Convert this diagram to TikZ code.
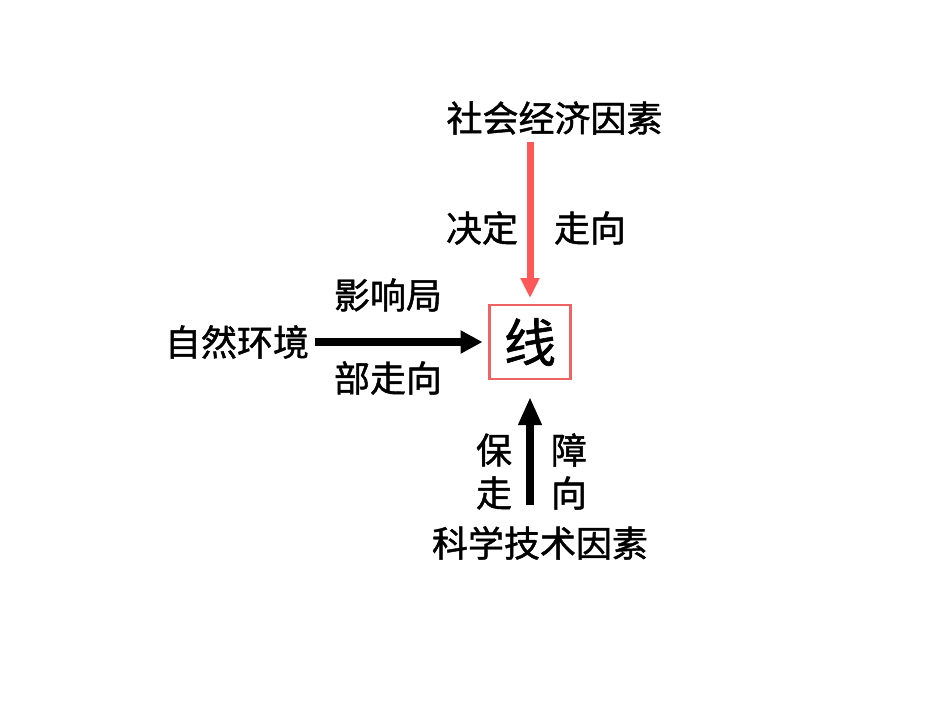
\documentclass[tikz,border=0pt]{standalone}
\usepackage{fontspec}
\newfontfamily\cjk{Noto Sans CJK SC}[FakeBold=1.2]
\usetikzlibrary{arrows.meta}
\definecolor{arrred}{RGB}{255,88,88}
\definecolor{boxred}{RGB}{238,100,100}
\begin{document}
\begin{tikzpicture}[x=1pt,y=-1pt,
  lbl/.style={inner sep=0pt,font=\cjk\fontsize{36}{36}\selectfont},
  redarr/.style={draw=arrred,line width=7pt,-{Triangle[length=20pt,width=18pt]}},
  blkarr/.style={draw=black,line width=7.5pt,-{Triangle[length=22pt,width=22pt]}}]
\useasboundingbox[fill=white] (0,0) rectangle (950,713);
\node[draw=boxred,line width=2.2pt,minimum width=81pt,minimum height=74pt,inner sep=0pt,outer sep=0pt,font=\cjk\fontsize{52}{52}\selectfont] (box) at (530,342) {线};
\node[lbl] (soc) at (554.5,118) {社会经济因素};
\node[lbl] (jd) at (482,228) {决定};
\node[lbl] (zx) at (590,228) {走向};
\node[lbl] (nat) at (237,342) {自然环境};
\node[lbl] (yx) at (388,295) {影响局};
\node[lbl] (bz) at (388,378) {部走向};
\node[lbl] (bao) at (494,450) {保};
\node[lbl] (zou) at (494,493) {走};
\node[lbl] (zhang) at (569,450) {障};
\node[lbl] (xiang) at (569,493) {向};
\node[lbl] (tech) at (540,543) {科学技术因素};
\coordinate (rstart) at (530,142);
\coordinate (ustart) at (530,505);
\coordinate (hstart) at (315,342);
\draw[redarr,shorten >=7pt] (rstart) -- (box.north);
\draw[blkarr,shorten >=7pt] (hstart) -- (box.west);
\draw[blkarr,-{Triangle[length=28pt,width=22pt]},shorten >=18pt] (ustart) -- (box.south);
\end{tikzpicture}
\end{document}
